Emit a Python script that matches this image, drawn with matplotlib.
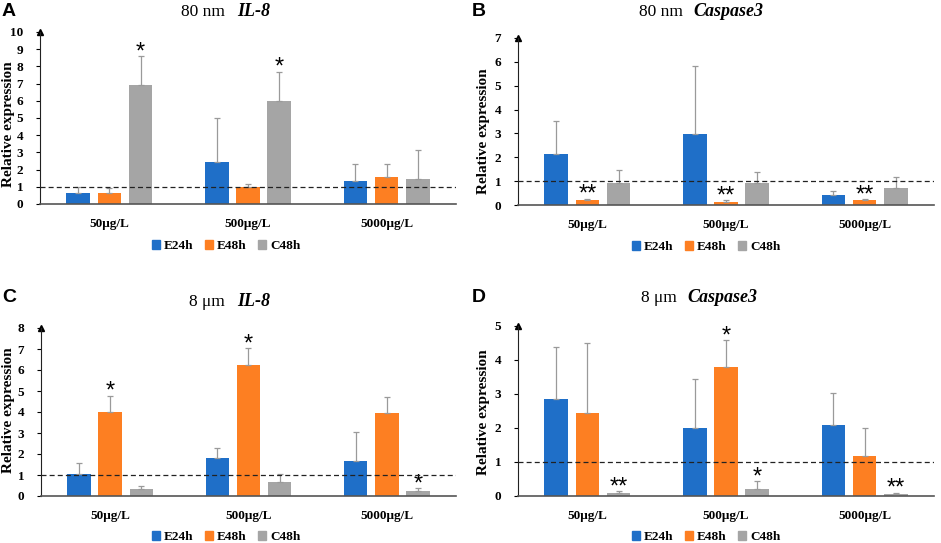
import matplotlib
matplotlib.use('Agg')
import matplotlib.pyplot as plt
from matplotlib.patches import Patch
import numpy as np

# data
categories = ['50μg/L', '500μg/L', '5000μg/L']
series = ['E24h', 'E48h', 'C48h']
colors = ['#1f6fc8', '#fd7f22', '#a5a5a5']

# panel A: 80 nm IL-8
a_mean = [[0.62, 2.44, 1.32], [0.66, 0.99, 1.57], [6.89, 5.98, 1.47]]
a_top = [[0.97, 4.99, 2.34], [0.93, 1.16, 2.30], [8.59, 7.70, 3.15]]
a_stars = [(2, 0, '*'), (2, 1, '*')]

# panel B: 80 nm Caspase3
b_mean = [[2.15, 2.99, 0.44], [0.20, 0.14, 0.21], [0.92, 0.94, 0.72]]
b_top = [[3.53, 5.82, 0.60], [0.26, 0.19, 0.24], [1.47, 1.38, 1.19]]
b_stars = [(1, 0, '**'), (1, 1, '**'), (1, 2, '**')]

# panel C: 8 um IL-8
c_mean = [[1.06, 1.81, 1.66], [3.99, 6.25, 3.94], [0.35, 0.65, 0.25]]
c_top = [[1.56, 2.27, 3.04], [4.78, 7.03, 4.72], [0.50, 1.06, 0.38]]
c_stars = [(1, 0, '*'), (1, 1, '*'), (2, 2, '*')]

# panel D: 8 um Caspase3
d_mean = [[2.84, 2.00, 2.10], [2.45, 3.78, 1.18], [0.10, 0.22, 0.05]]
d_top = [[4.37, 3.45, 3.04], [4.51, 4.58, 2.01], [0.14, 0.43, 0.09]]
d_stars = [(2, 0, '**'), (1, 1, '*'), (2, 1, '*'), (2, 2, '**')]

serif = 'Liberation Serif'
W, H = 941, 543

fig = plt.figure(figsize=(W / 100, H / 100), dpi=100)


def px(x0, y0, x1, y1):
    # pixel box (left, top, right, bottom) -> figure fraction rect
    return [x0 / W, 1 - y1 / H, (x1 - x0) / W, (y1 - y0) / H]


def panel(rect, mean, top, stars, ymax, letter, size, gene, title_x, title_y,
          letter_xy, leg_x, leg_y, ylab_xy):
    ax = fig.add_axes(rect)
    x = np.arange(len(categories))
    offs = [-0.225, 0, 0.225]
    for i in range(3):
        m = np.array(mean[i])
        t = np.array(top[i])
        ax.bar(x + offs[i], m, width=0.17, color=colors[i], zorder=2)
        ax.errorbar(x + offs[i], m, yerr=[np.zeros_like(m), t - m], fmt='none',
                    ecolor='#9a9a9a', elinewidth=0.9, capsize=2.5,
                    capthick=0.9, zorder=3)
    for i, j, s in stars:
        ax.annotate(s, (j + offs[i], top[i][j]), xytext=(0, -1.5),
                    textcoords='offset points', ha='center', va='baseline',
                    fontsize=17, family='Liberation Sans')
    ax.axhline(1, color='#222222', lw=0.9, ls=(0, (4, 2.5)), zorder=4)
    ax.set_xlim(-0.5, 2.5)
    ax.set_ylim(0, ymax)
    ax.set_yticks(range(ymax + 1))
    ax.set_yticklabels([str(v) for v in range(ymax + 1)], family=serif,
                       fontweight='bold', fontsize=9.5)
    ax.set_xticks(x)
    ax.set_xticklabels(categories, family=serif, fontweight='bold', fontsize=9.5)
    ax.tick_params(axis='x', length=0, pad=10)
    ax.tick_params(axis='y', length=3, width=0.8, pad=9)
    ax.spines['top'].set_visible(False)
    ax.spines['right'].set_visible(False)
    ax.spines['left'].set_color('#222222')
    ax.spines['bottom'].set_color('#555555')
    ax.spines['bottom'].set_linewidth(1.2)
    ax.plot([0], [1], marker='^', color='black', markersize=5,
            transform=ax.transAxes, clip_on=False)
    fig.text(ylab_xy[0] / W, 1 - ylab_xy[1] / H, 'Relative expression',
             rotation=90, ha='center', va='center', family=serif,
             fontweight='bold', fontsize=11)

    fig.text(title_x[0] / W, 1 - title_y / H, size, ha='right',
             va='center', family=serif, fontsize=12.5)
    fig.text(title_x[1] / W, 1 - title_y / H, gene, ha='left', va='center',
             family=serif, fontsize=13, fontweight='bold', style='italic')
    fig.text(letter_xy[0] / W, 1 - letter_xy[1] / H, letter, ha='left',
             va='center', family='Liberation Sans', fontweight='bold',
             fontsize=14)

    handles = [Patch(color=c) for c in colors]
    fig.legend(handles, series, loc='center', ncol=3, frameon=False,
               bbox_to_anchor=(leg_x / W, 1 - leg_y / H), handlelength=0.6,
               handleheight=0.6, handletextpad=0.3, columnspacing=0.9,
               prop={'family': serif, 'weight': 'bold', 'size': 9.5})
    return ax


panel(px(40, 32, 456, 204), a_mean, a_top, a_stars, 10, 'A', '80 nm', 'IL-8',
      (225, 237), 12, (2, 12), 226, 246, (9, 124))
panel(px(518, 38, 934, 205), b_mean, b_top, b_stars, 7, 'B', '80 nm',
      'Caspase3', (683, 693), 12, (472, 12), 706, 247, (483, 131))
panel(px(41, 328, 456, 496), c_mean, c_top, c_stars, 8, 'C', '8 μm', 'IL-8',
      (225, 237), 302, (2, 297), 226, 537, (9, 410))
panel(px(518, 326, 934, 496), d_mean, d_top, d_stars, 5, 'D', '8 μm',
      'Caspase3', (677, 687), 298, (472, 297), 706, 537, (483, 412))

fig.savefig('out.png', dpi=100)
